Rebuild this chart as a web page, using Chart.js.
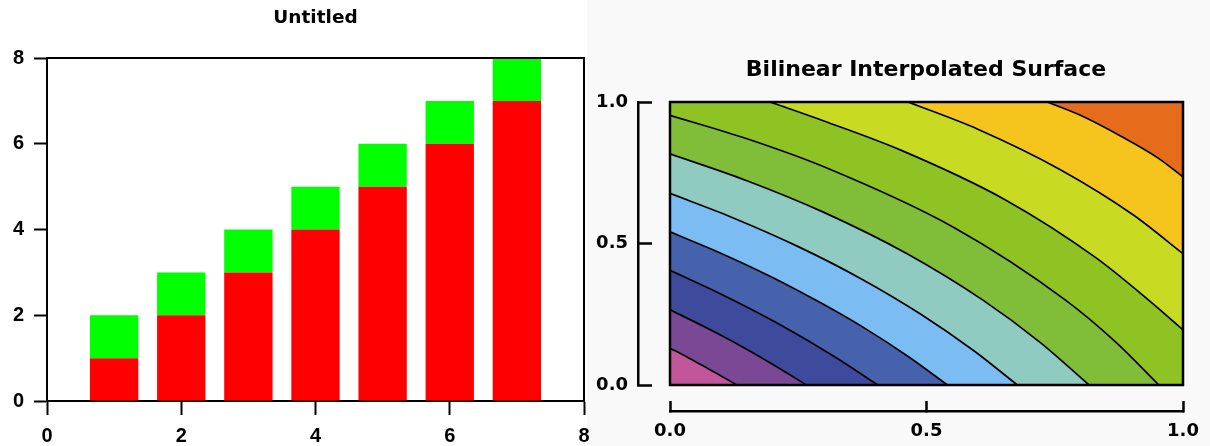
<!DOCTYPE html>
<html>
<head>
<meta charset="utf-8">
<script src="https://cdn.jsdelivr.net/npm/chart.js@4.4.1/dist/chart.umd.min.js"></script>
<style>
html, body { margin: 0; padding: 0; width: 1210px; height: 446px; overflow: hidden; background: #ffffff; }
#rightbg { position: absolute; left: 587px; top: 0; width: 623px; height: 446px; background: #f9f9f9; }
#left { position: absolute; left: 0; top: 0; }
#right { position: absolute; left: 587px; top: 0; }
</style>
</head>
<body>
<div id="rightbg"></div>
<canvas id="left" width="600" height="446"></canvas>
<canvas id="right" width="673" height="446"></canvas>
<script>
// ---------- Left chart data ----------
const barX = [1, 2, 3, 4, 5, 6, 7];
const redValues = [1, 2, 3, 4, 5, 6, 7];
const greenValues = [1, 1, 1, 1, 1, 1, 1];
const barXTicks = [0, 2, 4, 6, 8];
const barYTicks = [0, 2, 4, 6, 8];

// ---------- Right chart data (contour lines, [x, y]) ----------
const surfTicks = [0, 0.5, 1];
const contour1 = [[0, 0.130], [0.033, 0.099], [0.066, 0.066], [0.099, 0.033], [0.130, 0]];
const contour2 = [[0, 0.266], [0.07, 0.203], [0.138, 0.138], [0.203, 0.07], [0.266, 0]];
const contour3 = [[0, 0.405], [0.10, 0.321], [0.214, 0.214], [0.321, 0.10], [0.405, 0]];
const contour4 = [[0, 0.541], [0.10, 0.465], [0.20, 0.380], [0.292, 0.292], [0.380, 0.20], [0.465, 0.10], [0.541, 0]];
const contour5 = [[0, 0.677], [0.12, 0.593], [0.25, 0.489], [0.374, 0.374], [0.489, 0.25], [0.593, 0.12], [0.677, 0]];
const contour6 = [[0, 0.817], [0.15, 0.722], [0.30, 0.610], [0.463, 0.463], [0.610, 0.30], [0.722, 0.15], [0.817, 0]];
const contour7 = [[0, 0.953], [0.15, 0.870], [0.30, 0.771], [0.555, 0.555], [0.771, 0.30], [0.870, 0.15], [0.953, 0]];
const contour8 = [[0.195, 1], [0.30, 0.933], [0.45, 0.830], [0.654, 0.654], [0.830, 0.45], [0.933, 0.30], [1, 0.195]];
const contour9 = [[0.464, 1], [0.60, 0.904], [0.761, 0.761], [0.904, 0.60], [1, 0.464]];
const contour10 = [[0.735, 1], [0.80, 0.953], [0.879, 0.879], [0.953, 0.80], [1, 0.735]];
const surfaceCorners = [[0, 1], [1, 1]];

// band colours, from lower-left corner to upper-right corner
const bandColors = ['#c2569b', '#7b4896', '#3e4a9b', '#4762ad', '#7bbdf3', '#8fcbc0',
                    '#80be3a', '#8fc323', '#c9da22', '#f6c51d', '#e56c1b'];

const toXY = arr => arr.map(p => ({ x: p[0], y: p[1] }));

// ---------- Left chart ----------
const tickFontL = { family: "'Liberation Sans', Arial, sans-serif", weight: 'bold', size: 20 };
const boxFrame = {
  id: 'boxFrame',
  afterDatasetsDraw(chart) {
    const { ctx, chartArea } = chart;
    ctx.save();
    ctx.strokeStyle = '#000';
    ctx.lineWidth = 2;
    ctx.beginPath();
    ctx.moveTo(chartArea.left, chartArea.top);
    ctx.lineTo(chartArea.right, chartArea.top);
    ctx.lineTo(chartArea.right, chartArea.bottom);
    ctx.stroke();
    ctx.restore();
  }
};

new Chart(document.getElementById('left'), {
  type: 'bar',
  data: {
    datasets: [
      { label: 'A', data: barX.map((x, i) => ({ x: x, y: redValues[i] })), backgroundColor: '#ff0000',
        borderWidth: 0, barPercentage: 0.72, categoryPercentage: 1 },
      { label: 'B', data: barX.map((x, i) => ({ x: x, y: greenValues[i] })), backgroundColor: '#00ff00',
        borderWidth: 0, barPercentage: 0.72, categoryPercentage: 1 }
    ]
  },
  options: {
    responsive: false,
    animation: false,
    layout: { padding: { left: 0, right: 16, top: 0, bottom: 0 } },
    plugins: {
      legend: { display: false },
      tooltip: { enabled: false },
      title: {
        display: true, text: 'Untitled', fullSize: false, color: '#000',
        font: { family: "'DejaVu Sans'", weight: 'bold', size: 18.5 },
        padding: { top: 7, bottom: 28.8 }
      }
    },
    scales: {
      x: {
        type: 'linear', min: 0, max: 8, stacked: true, offset: false,
        afterBuildTicks: s => { s.ticks = barXTicks.map(v => ({ value: v })); },
        afterFit: s => { s.height = 45; },
        grid: { display: true, offset: false, drawOnChartArea: false, drawTicks: true, tickLength: 14, tickWidth: 2, tickColor: '#000' },
        border: { display: true, color: '#000', width: 2 },
        ticks: { color: '#000', padding: 9, maxRotation: 0, autoSkip: false, font: tickFontL }
      },
      y: {
        type: 'linear', min: 0, max: 8, stacked: true,
        afterBuildTicks: s => { s.ticks = barYTicks.map(v => ({ value: v })); },
        afterFit: s => { s.width = 47; },
        grid: { display: true, drawOnChartArea: false, drawTicks: true, tickLength: 13, tickWidth: 2, tickColor: '#000' },
        border: { display: true, color: '#000', width: 2 },
        ticks: { color: '#000', padding: 10, font: tickFontL }
      }
    }
  },
  plugins: [boxFrame]
});

// ---------- Right chart ----------
const surfFont = { family: "'DejaVu Sans'", weight: 'bold', size: 18 };
const plotFrame = {
  id: 'plotFrame',
  afterDatasetsDraw(chart) {
    const { ctx } = chart;
    const xs = chart.scales.x, ys = chart.scales.y;
    const l = xs.getPixelForValue(0), r = xs.getPixelForValue(1);
    const t = ys.getPixelForValue(1), b = ys.getPixelForValue(0);
    ctx.save();
    ctx.strokeStyle = '#000';
    ctx.lineWidth = 2.5;
    ctx.strokeRect(l, t, r - l, b - t);
    ctx.restore();
  }
};

function lineDs(points, color, fill) {
  return {
    data: toXY(points),
    borderColor: '#000',
    borderWidth: 1.7,
    backgroundColor: color,
    fill: fill,
    pointRadius: 0,
    cubicInterpolationMode: 'monotone',
    xAxisID: 'x', yAxisID: 'y'
  };
}

new Chart(document.getElementById('right'), {
  type: 'line',
  data: {
    datasets: [
      lineDs(contour1, bandColors[0], 'origin'),
      lineDs(contour2, bandColors[1], 'origin'),
      lineDs(contour3, bandColors[2], 'origin'),
      lineDs(contour4, bandColors[3], 'origin'),
      lineDs(contour5, bandColors[4], 'origin'),
      lineDs(contour6, bandColors[5], 'origin'),
      lineDs(contour7, bandColors[6], 'origin'),
      lineDs(contour10, bandColors[10], 'end'),
      lineDs(contour9, bandColors[9], 'end'),
      lineDs(contour8, bandColors[8], 'end'),
      { data: toXY(surfaceCorners), borderWidth: 0, borderColor: 'rgba(0,0,0,0)', backgroundColor: bandColors[7],
        fill: 'origin', pointRadius: 0, xAxisID: 'x', yAxisID: 'y' }
    ]
  },
  options: {
    responsive: false,
    animation: false,
    layout: { padding: { left: 6, right: 1, top: 0, bottom: 0 } },
    plugins: {
      legend: { display: false },
      tooltip: { enabled: false },
      title: {
        display: true, text: 'Bilinear Interpolated Surface', color: '#000',
        font: { family: "'DejaVu Sans'", weight: 'bold', size: 22 },
        padding: { top: 57, bottom: 18.6 }
      }
    },
    scales: {
      xgap: {
        type: 'linear', position: 'bottom', stack: 'xs', stackWeight: 32, display: true,
        grid: { display: false }, border: { display: false }, ticks: { display: false },
        afterFit: s => { s.height = 35; }
      },
      x: {
        type: 'linear', position: 'bottom', stack: 'xs', stackWeight: 513, min: 0, max: 1,
        afterBuildTicks: s => { s.ticks = surfTicks.map(v => ({ value: v })); },
        afterFit: s => { s.height = 35; },
        grid: { display: true, drawOnChartArea: false, drawTicks: true, tickLength: -10, tickWidth: 2.5, tickColor: '#000' },
        border: { display: true, color: '#000', width: 2.5 },
        ticks: { color: '#000', padding: 20, maxRotation: 0, autoSkip: false, font: surfFont,
                 callback: v => Number(v).toFixed(1) }
      },
      ygap: {
        type: 'linear', position: 'left', stack: 'ys', stackWeight: 26, display: true,
        grid: { display: false }, border: { display: false }, ticks: { display: false },
        afterFit: s => { s.width = 45; }
      },
      y: {
        type: 'linear', position: 'left', stack: 'ys', stackWeight: 283, min: 0, max: 1,
        afterBuildTicks: s => { s.ticks = surfTicks.map(v => ({ value: v })); },
        afterFit: s => { s.width = 45; },
        grid: { display: true, drawOnChartArea: false, drawTicks: true, tickLength: -14, tickWidth: 2.5, tickColor: '#000' },
        border: { display: true, color: '#000', width: 2.5 },
        ticks: { color: '#000', padding: 24, font: surfFont, callback: v => Number(v).toFixed(1) }
      },
      yr: {
        type: 'linear', position: 'right', display: true,
        grid: { display: false }, border: { display: false }, ticks: { display: false },
        afterFit: s => { s.width = 76; }
      }
    }
  },
  plugins: [plotFrame]
});
</script>
</body>
</html>
